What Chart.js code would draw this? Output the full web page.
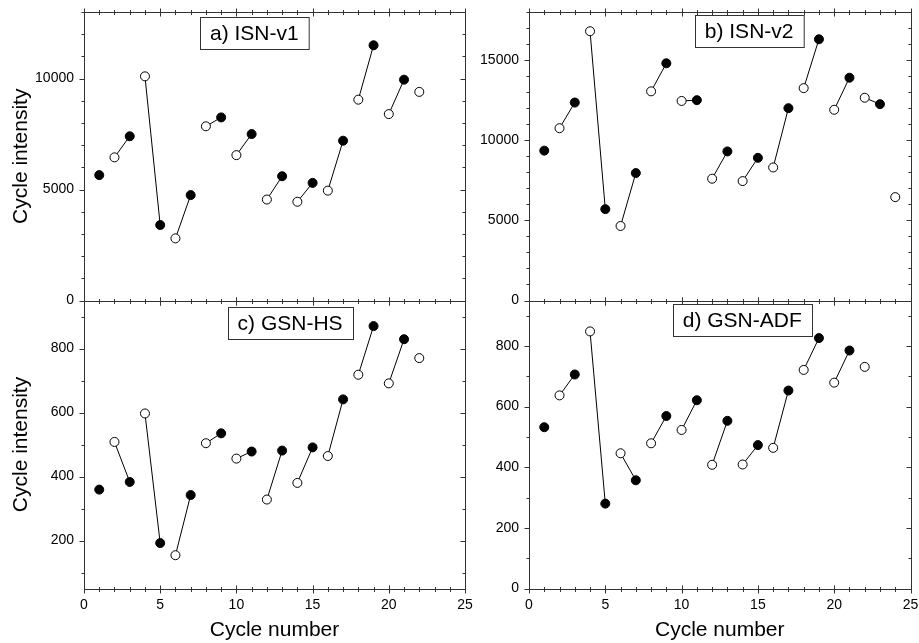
<!DOCTYPE html>
<html lang="en">
<head>
<meta charset="UTF-8">
<title>Cycle intensity</title>
<script src="https://cdn.jsdelivr.net/npm/chart.js"></script>
<style>
  body { margin: 0; background: #fff; }
  #wrap { position: relative; width: 919px; height: 643px; }
  #wrap canvas { position: absolute; left: 0; top: 0; }
</style>
</head>
<body>
<div id="wrap">
  <canvas id="chartA" width="919" height="643"></canvas>
  <canvas id="chartB" width="919" height="643"></canvas>
  <canvas id="chartC" width="919" height="643"></canvas>
  <canvas id="chartD" width="919" height="643"></canvas>
</div>
<script>
// cycle numbers
const cycles22 = [1, 2, 3, 4, 5, 6, 7, 8, 9, 10, 11, 12, 13, 14, 15, 16, 17, 18, 19, 20, 21, 22];
const cycles24 = [1, 2, 3, 4, 5, 6, 7, 8, 9, 10, 11, 12, 13, 14, 15, 16, 17, 18, 19, 20, 21, 22, 23, 24];

// cycle intensity per series
const isnV1 = [5650, 6450, 7400, 10100, 3400, 2800, 4750, 7850, 8250, 6550, 7500,
               4550, 5600, 4450, 5300, 4950, 7200, 9050, 11500, 8400, 9950, 9400];
const isnV2 = [9350, 10750, 12350, 16800, 5700, 4650, 7950, 13050, 14800, 12450, 12500,
               7600, 9300, 7450, 8900, 8300, 12000, 13250, 16300, 11900, 13900, 12650, 12250, 6450];
const gsnHs = [359, 508, 383, 597, 192, 154, 342, 504, 535, 456, 478,
               328, 481, 380, 491, 464, 641, 718, 870, 691, 829, 770];
const gsnAdf = [532, 637, 706, 848, 280, 446, 357, 479, 569, 523, 621,
                408, 553, 409, 473, 464, 653, 721, 826, 679, 785, 731];

// tick labels
const xTicks = [0, 5, 10, 15, 20, 25];
const yTicksA = [0, 5000, 10000];
const yTicksB = [0, 5000, 10000, 15000];
const yTicksC = [200, 400, 600, 800];
const yTicksD = [0, 200, 400, 600, 800];

const panelNames = ['a) ISN-v1', 'b) ISN-v2', 'c) GSN-HS', 'd) GSN-ADF'];

Chart.defaults.font.family = '"Liberation Sans", Arial, sans-serif';
Chart.defaults.color = '#000';

// box + inward/outward ticks, drawn from the chart's own scales
const framePlugin = {
  id: 'frame',
  beforeDatasetsDraw(chart, args, opts) {
    const {ctx, chartArea: a} = chart;
    const xs = chart.scales.x, ys = chart.scales.y;
    const L = Math.round(a.left) + 0.5, R = Math.round(a.right) + 0.5;
    const T = Math.round(a.top) + 0.5, B = Math.round(a.bottom) + 0.5;
    ctx.save();
    ctx.strokeStyle = '#333';
    ctx.lineWidth = 1;
    ctx.strokeRect(L, T, R - L, B - T);
    ctx.beginPath();
    for (let v = xs.min; v <= xs.max; v += opts.xMinor) {
      const px = Math.round(xs.getPixelForValue(v)) + 0.5;
      const len = v % opts.xMajor === 0 ? 4 : 2.5;
      ctx.moveTo(px, B - len); ctx.lineTo(px, B + len);
      ctx.moveTo(px, T - len); ctx.lineTo(px, T + len);
    }
    const y0 = Math.ceil(ys.min / opts.yMinor) * opts.yMinor;
    for (let v = y0; v <= ys.max; v += opts.yMinor) {
      const py = Math.round(ys.getPixelForValue(v)) + 0.5;
      const len = v % opts.yMajor === 0 ? 5 : 3;
      ctx.moveTo(L - len, py); ctx.lineTo(L, py);
      ctx.moveTo(R - len, py); ctx.lineTo(R, py);
    }
    ctx.stroke();
    ctx.restore();
  }
};

const labelPlugin = {
  id: 'panelLabel',
  afterDatasetsDraw(chart, args, opts) {
    const {ctx, chartArea: a} = chart;
    ctx.save();
    ctx.font = '21px "Liberation Sans", Arial, sans-serif';
    const w = ctx.measureText(opts.text).width + 2 * opts.pad;
    const h = 32;
    const cx = a.left + opts.fx * (a.right - a.left);
    const cy = a.top + opts.fy * (a.bottom - a.top);
    const x = Math.round(cx - w / 2) + 0.5, y = Math.round(cy - h / 2) + 0.5;
    ctx.fillStyle = '#fff';
    ctx.fillRect(x, y, w, h);
    ctx.strokeStyle = '#333';
    ctx.lineWidth = 1;
    ctx.strokeRect(x, y, w, h);
    ctx.fillStyle = '#000';
    ctx.textAlign = 'center';
    ctx.textBaseline = 'middle';
    ctx.fillText(opts.text, cx, cy + 1);
    ctx.restore();
  }
};

// even cycle joined to the next odd cycle
function pairSegments(xs, ys) {
  const out = [];
  for (let i = 0; i < xs.length - 1; i++) {
    if (xs[i] % 2 === 0) {
      out.push({x: xs[i], y: ys[i]}, {x: xs[i + 1], y: ys[i + 1]}, {x: xs[i + 1], y: null});
    }
  }
  return out;
}

function makePanel(id, p) {
  const left = p.col === 0 ? 84 : 529;
  const right = p.col === 0 ? 465 : 910.5;
  const top = p.row === 0 ? 12 : 300.5;
  const bottom = p.row === 0 ? 300.5 : 588.5;
  const yW = 80, xH = 52.5;
  const showX = p.row === 1;

  new Chart(document.getElementById(id), {
    type: 'scatter',
    data: {
      datasets: [
        {
          data: p.x.map((c, i) => ({x: c, y: p.y[i]})),
          pointRadius: 4.5,
          pointHoverRadius: 4.5,
          pointBorderWidth: 1,
          pointBorderColor: '#000',
          pointBackgroundColor: p.x.map(c => c % 2 === 0 ? '#fff' : '#000'),
          order: 0
        },
        {
          data: pairSegments(p.x, p.y),
          showLine: true,
          spanGaps: false,
          borderColor: '#000',
          borderWidth: 1,
          pointRadius: 0,
          order: 1
        }
      ]
    },
    options: {
      responsive: false,
      animation: false,
      events: [],
      layout: {
        padding: {
          left: left - yW,
          right: 919 - right,
          top: top,
          bottom: showX ? 643 - bottom - xH : 643 - bottom
        }
      },
      scales: {
        x: {
          type: 'linear',
          min: 0, max: 25,
          display: showX,
          grid: {display: false, drawTicks: true, tickLength: 8},
          border: {display: false},
          afterBuildTicks: s => { s.ticks = xTicks.map(v => ({value: v})); },
          afterFit: s => { s.height = showX ? xH : 0; },
          ticks: {font: {size: 14}, padding: 0, maxRotation: 0, callback: v => String(v)},
          title: {display: true, text: 'Cycle number', font: {size: 21, lineHeight: 1}, padding: {top: 0, bottom: 0.5}}
        },
        y: {
          type: 'linear',
          min: p.yMin, max: p.yMax,
          grid: {display: false, drawTicks: true, tickLength: 10},
          border: {display: false},
          afterBuildTicks: s => { s.ticks = p.yTicks.map(v => ({value: v})); },
          afterFit: s => { s.width = yW; },
          ticks: {font: {size: 14}, padding: 0, callback: v => String(v)},
          title: {display: p.col === 0, text: 'Cycle intensity', font: {size: 21, lineHeight: 1}, padding: {top: 6.5, bottom: 0}}
        }
      },
      plugins: {
        legend: {display: false},
        tooltip: {enabled: false},
        frame: {xMinor: 1, xMajor: 5, yMinor: p.yMinor, yMajor: p.yMajor},
        panelLabel: {text: p.name, fx: p.fx, fy: p.fy, pad: 10}
      }
    },
    plugins: [framePlugin, labelPlugin]
  });
}

makePanel('chartA', {row: 0, col: 0, x: cycles22, y: isnV1, yMin: 0, yMax: 13000, yTicks: yTicksA,
  yMinor: 1000, yMajor: 5000, name: panelNames[0], fx: 0.447, fy: 0.073});
makePanel('chartB', {row: 0, col: 1, x: cycles24, y: isnV2, yMin: 0, yMax: 18000, yTicks: yTicksB,
  yMinor: 1000, yMajor: 5000, name: panelNames[1], fx: 0.577, fy: 0.065});
makePanel('chartC', {row: 1, col: 0, x: cycles22, y: gsnHs, yMin: 50, yMax: 950, yTicks: yTicksC,
  yMinor: 100, yMajor: 200, name: panelNames[2], fx: 0.541, fy: 0.078});
makePanel('chartD', {row: 1, col: 1, x: cycles22, y: gsnAdf, yMin: 0, yMax: 950, yTicks: yTicksD,
  yMinor: 100, yMajor: 200, name: panelNames[3], fx: 0.559, fy: 0.069});
</script>
</body>
</html>
